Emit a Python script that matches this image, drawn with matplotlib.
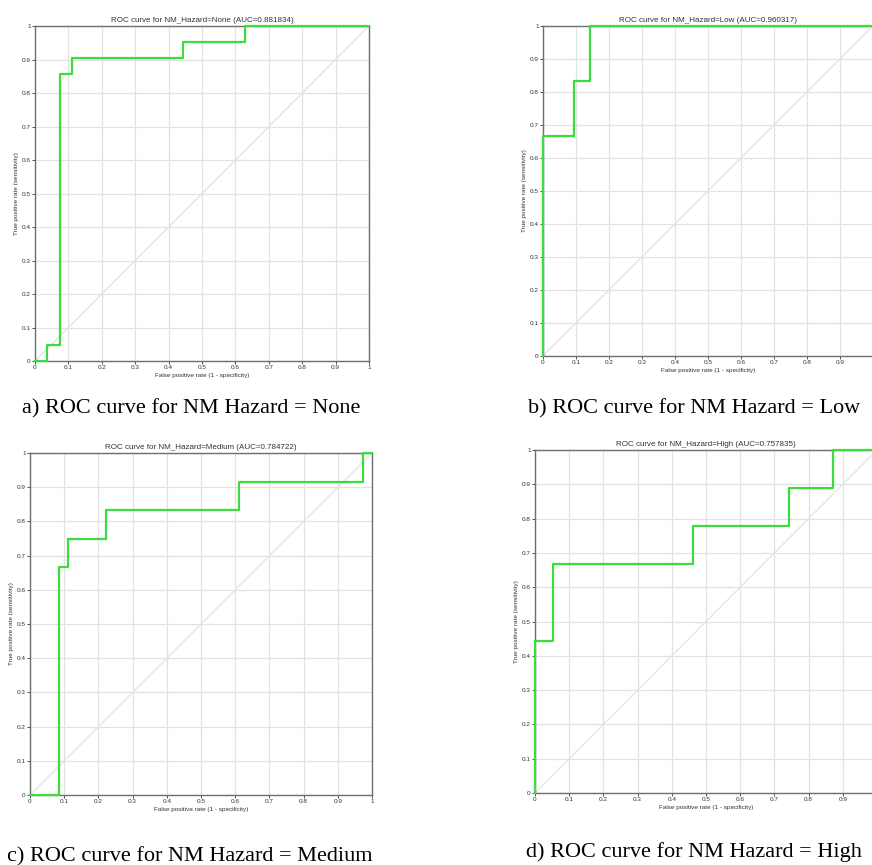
import matplotlib.pyplot as plt

plt.rcParams['font.family'] = ['Liberation Sans', 'DejaVu Sans']

# ROC step points (FPR, TPR)
none_fpr = [0, 1/27, 1/27, 2/27, 2/27, 3/27, 3/27, 12/27, 12/27, 17/27, 17/27, 1]
none_tpr = [0, 0, 1/21, 1/21, 18/21, 18/21, 19/21, 19/21, 20/21, 20/21, 1, 1]

low_fpr = [0, 0, 2/21, 2/21, 3/21, 3/21, 1]
low_tpr = [0, 4/6, 4/6, 5/6, 5/6, 1, 1]

medium_fpr = [0, 3/36, 3/36, 4/36, 4/36, 8/36, 8/36, 22/36, 22/36, 35/36, 35/36, 1]
medium_tpr = [0, 0, 8/12, 8/12, 9/12, 9/12, 10/12, 10/12, 11/12, 11/12, 1, 1]

high_fpr = [0, 0, 2/39, 2/39, 18/39, 18/39, 29/39, 29/39, 34/39, 34/39, 1]
high_tpr = [0, 4/9, 4/9, 6/9, 6/9, 7/9, 7/9, 8/9, 8/9, 1, 1]

titles = ['ROC curve for NM_Hazard=None (AUC=0.881834)',
          'ROC curve for NM_Hazard=Low (AUC=0.960317)',
          'ROC curve for NM_Hazard=Medium (AUC=0.784722)',
          'ROC curve for NM_Hazard=High (AUC=0.757835)']
captions = ['a) ROC curve for NM Hazard = None',
            'b) ROC curve for NM Hazard = Low',
            'c) ROC curve for NM Hazard = Medium',
            'd) ROC curve for NM Hazard = High']
ticks = [0, 0.1, 0.2, 0.3, 0.4, 0.5, 0.6, 0.7, 0.8, 0.9, 1]
tick_labels = ['0', '0.1', '0.2', '0.3', '0.4', '0.5', '0.6', '0.7', '0.8', '0.9', '1']

curves = [(none_fpr, none_tpr), (low_fpr, low_tpr),
          (medium_fpr, medium_tpr), (high_fpr, high_tpr)]

W, H = 872, 865
# axes boxes in pixels: left, top, right, bottom
boxes = [(35, 26, 369, 361), (543, 26, 873, 356),
         (30, 453, 372, 795), (535, 450, 877, 793)]
caption_pos = [(191, 409), (694, 409), (190, 857), (694, 852)]

fig = plt.figure(figsize=(W / 100, H / 100), dpi=100)

for i, (fpr, tpr) in enumerate(curves):
    l, t, r, b = boxes[i]
    ax = fig.add_axes([l / W, 1 - b / H, (r - l) / W, (b - t) / H])
    ax.set_xlim(0, 1)
    ax.set_ylim(0, 1)
    ax.set_xticks(ticks)
    # right-hand panels run off the page edge, the last label is not shown
    xl = tick_labels if i % 2 == 0 else tick_labels[:-1] + ['']
    ax.set_xticklabels(xl)
    ax.set_yticks(ticks)
    ax.set_yticklabels(tick_labels)
    ax.grid(True, color='#e2e2e2', linewidth=0.9)
    ax.set_axisbelow(True)
    ax.plot([0, 1], [0, 1], color='#e2e2e2', linewidth=0.9)
    ax.plot(fpr, tpr, color='#3ddc3d', linewidth=1.6, clip_on=False, zorder=3)
    ax.tick_params(labelsize=4.6, length=2, width=0.6, pad=1, colors='#333333')
    for s in ax.spines.values():
        s.set_color('#6e6e6e')
        s.set_linewidth(1.0)
    ax.set_title(titles[i], fontsize=5.8, color='#333333', pad=3)
    ax.set_xlabel('False positive rate (1 - specificity)', fontsize=4.6,
                  color='#333333', labelpad=2)
    ax.set_ylabel('True positive rate (sensitivity)', fontsize=4.6,
                  color='#333333', labelpad=2)
    cx, cy = caption_pos[i]
    fig.text(cx / W, 1 - cy / H, captions[i], ha='center', va='center',
             fontsize=16, family=['Liberation Serif', 'DejaVu Serif'])

fig.savefig('out.png', dpi=100, facecolor='white')
